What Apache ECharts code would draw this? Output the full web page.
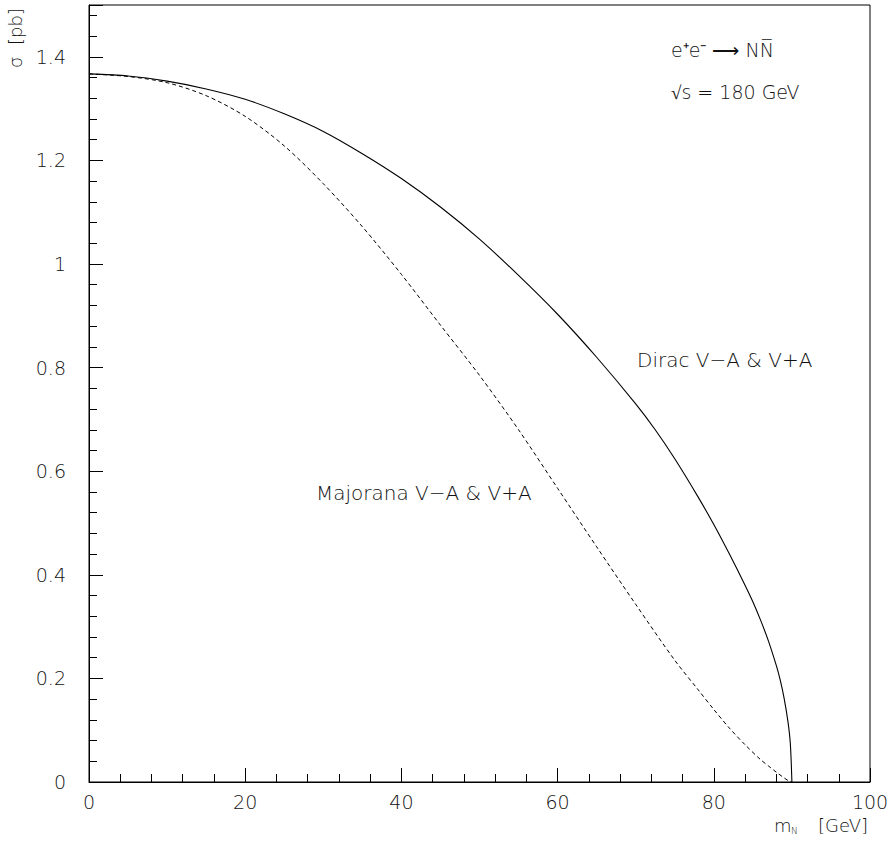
<!DOCTYPE html>
<html>
<head>
<meta charset="utf-8">
<script src="https://cdn.jsdelivr.net/npm/echarts@6/dist/echarts.min.js"></script>
<style>
  html, body { margin: 0; padding: 0; background: #fff; }
  #chart { width: 894px; height: 843px; }
</style>
</head>
<body>
<div id="chart"></div>
<script>
// neutrino mass m_N [GeV] and cross section sigma [pb]
var massDirac = [0, 5, 10, 15, 20, 25, 30, 35, 40, 45, 50, 55, 60, 65, 70, 72.5, 75, 78, 80, 82, 84, 85, 86, 87, 88, 88.5, 89, 89.5, 89.8, 90];
var sigmaDirac = [1.367, 1.363, 1.353, 1.338, 1.318, 1.290, 1.256, 1.213, 1.165, 1.110, 1.048, 0.978, 0.903, 0.820, 0.730, 0.680, 0.624, 0.550, 0.497, 0.440, 0.380, 0.348, 0.312, 0.272, 0.225, 0.197, 0.162, 0.116, 0.074, 0];

var massMajorana = [0, 5, 10, 15, 20, 25, 30, 35, 40, 45, 50, 55, 60, 65, 70, 75, 78, 80, 82, 84, 86, 87, 88, 89, 89.6, 90];
var sigmaMajorana = [1.367, 1.362, 1.350, 1.325, 1.285, 1.228, 1.155, 1.072, 0.980, 0.882, 0.785, 0.680, 0.567, 0.454, 0.343, 0.235, 0.178, 0.140, 0.104, 0.072, 0.043, 0.031, 0.019, 0.008, 0.002, 0];

var xTicks = [0, 20, 40, 60, 80, 100];
var yTicks = [0, 0.2, 0.4, 0.6, 0.8, 1, 1.2, 1.4];

var FONT = 'DejaVu Sans';
var TXT = '#111';

function pairs(xs, ys) {
	var out = [];
	for (var i = 0; i < xs.length; i++) out.push([xs[i], ys[i]]);
	return out;
}

var chart = echarts.init(document.getElementById('chart'), null, { renderer: 'svg' });

chart.setOption({
	backgroundColor: '#fff',
	animation: false,
	grid: {
		left: 89, top: 5, width: 781, height: 777,
		show: true, borderColor: '#000', borderWidth: 1, backgroundColor: 'transparent'
	},
	xAxis: {
		type: 'value', min: 0, max: 100, interval: 20,
		axisLine: { lineStyle: { color: '#000', width: 1 } },
		axisTick: { inside: true, length: 14, lineStyle: { color: '#000' } },
		minorTick: { show: true, splitNumber: 5, length: 8, lineStyle: { color: '#000' } },
		splitLine: { show: false },
		axisLabel: {
			margin: 10, fontFamily: FONT, fontSize: 19, fontWeight: 200, color: TXT,
			formatter: function (v) { return xTicks.indexOf(v) >= 0 ? String(v) : ''; }
		}
	},
	yAxis: [
		{
			type: 'value', min: 0, max: 1.5, interval: 0.2, position: 'left',
			axisLine: { lineStyle: { color: '#000', width: 1 } },
			axisTick: { inside: true, length: 14, lineStyle: { color: '#000' } },
			splitLine: { show: false },
			axisLabel: {
				margin: 23, fontFamily: FONT, fontSize: 19, fontWeight: 200, color: TXT,
				formatter: function (v) {
					var r = Math.round(v * 10) / 10;
					return yTicks.indexOf(r) >= 0 && Math.abs(v - r) < 1e-6 ? String(r) : '';
				}
			}
		},
		{
			// minor ticks every 0.04
			type: 'value', min: 0, max: 1.5, interval: 0.04, position: 'left', offset: 0,
			axisLine: { show: false },
			axisTick: { inside: true, length: 8, lineStyle: { color: '#000' } },
			splitLine: { show: false },
			axisLabel: { show: false }
		}
	],
	series: [
		{
			name: 'Dirac V-A & V+A', type: 'line', yAxisIndex: 0,
			data: pairs(massDirac, sigmaDirac),
			showSymbol: false, smooth: 0.3,
			lineStyle: { color: '#000', width: 1.1 }
		},
		{
			name: 'Majorana V-A & V+A', type: 'line', yAxisIndex: 0,
			data: pairs(massMajorana, sigmaMajorana),
			showSymbol: false, smooth: 0.3,
			lineStyle: { color: '#000', width: 1, type: [4, 3] }
		}
	],
	graphic: [
		{
			type: 'text', left: 671, top: 40,
			style: { text: 'e\u207Ae\u207B \u27F6 NN\u0305', fontFamily: FONT, fontSize: 19, fontWeight: 200, fill: TXT }
		},
		{
			type: 'text', left: 671, top: 82,
			style: { text: '\u221As = 180 GeV', fontFamily: FONT, fontSize: 19, fontWeight: 200, fill: TXT }
		},
		{
			type: 'text', left: 637, top: 350,
			style: { text: 'Dirac V\u2212A & V+A', fontFamily: FONT, fontSize: 20, fontWeight: 200, fill: TXT }
		},
		{
			type: 'text', left: 316, top: 483,
			style: { text: 'Majorana V\u2212A & V+A', fontFamily: FONT, fontSize: 20, fontWeight: 200, fill: TXT }
		},
		{
			type: 'text', left: 774, top: 816,
			style: { text: 'm', fontFamily: FONT, fontSize: 18, fontWeight: 200, fill: TXT }
		},
		{
			type: 'text', left: 791, top: 826,
			style: { text: 'N', fontFamily: FONT, fontSize: 9, fontWeight: 200, fill: TXT }
		},
		{
			type: 'text', left: 818, top: 816,
			style: { text: '[GeV]', fontFamily: FONT, fontSize: 18, fontWeight: 200, fill: TXT }
		},
		{
			type: 'text', x: 15, y: 38, rotation: Math.PI / 2,
			style: {
				text: '\u03C3  [pb]', fontFamily: FONT, fontSize: 18, fontWeight: 200, fill: TXT,
				align: 'center', verticalAlign: 'middle'
			}
		}
	]
});
</script>
</body>
</html>
